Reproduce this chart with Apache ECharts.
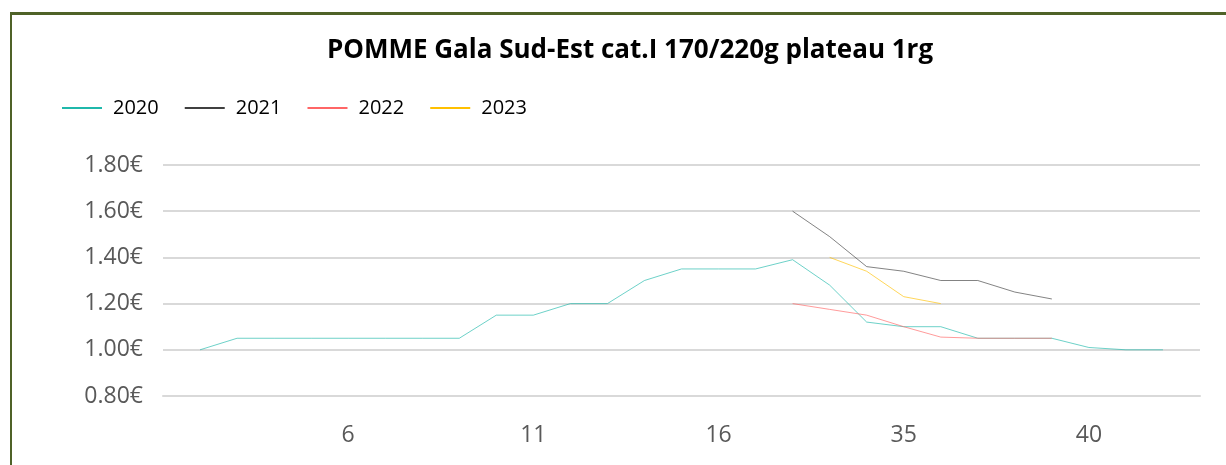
<!DOCTYPE html>
<html>
<head>
<meta charset="utf-8">
<script src="https://cdn.jsdelivr.net/npm/echarts@6/dist/echarts.min.js"></script>
<style>
  html, body { margin: 0; padding: 0; background: #fff; }
  #frame { position: absolute; left: 10px; top: 12px; right: 0; bottom: 0;
           border-top: 3px solid #4f6228; border-left: 2px solid #4f6228; }
  #chart { position: absolute; left: 0; top: 0; width: 1226px; height: 465px; }
</style>
</head>
<body>
<div id="frame"></div>
<div id="chart"></div>
<script>
// weeks (season gap between 16 and 31)
const weeks = ['1', '2', '3', '4', '5', '6', '7', '8', '9', '10', '11', '12', '13', '14', '15', '16',
  '31', '32', '33', '34', '35', '36', '37', '38', '39', '40', '41', '42', '43'];

const s2020 = [null, 1.00, 1.05, 1.05, 1.05, 1.05, 1.05, 1.05, 1.05, 1.15, 1.15, 1.20, 1.20, 1.30, 1.35, 1.35,
  1.35, 1.39, 1.28, 1.12, 1.10, 1.10, 1.05, 1.05, 1.05, 1.01, 1.00, 1.00, null];
const s2021 = [null, null, null, null, null, null, null, null, null, null, null, null, null, null, null, null,
  null, 1.60, 1.49, 1.36, 1.34, 1.30, 1.30, 1.25, 1.22, null, null, null, null];
const s2022 = [null, null, null, null, null, null, null, null, null, null, null, null, null, null, null, null,
  null, 1.20, 1.175, 1.15, 1.10, 1.055, 1.05, 1.05, 1.05, null, null, null, null];
const s2023 = [null, null, null, null, null, null, null, null, null, null, null, null, null, null, null, null,
  null, null, 1.40, 1.34, 1.23, 1.20, null, null, null, null, null, null, null];

const colors = ['#1fb8ab', '#404040', '#ff6666', '#ffc000'];
const font = '"Open Sans", "Noto Sans", sans-serif';

function line(name, data, color) {
  return {
    name: name,
    type: 'line',
    data: data,
    symbol: 'none',
    connectNulls: false,
    color: color,
    lineStyle: { width: 1, opacity: 0.65 }
  };
}

const chart = echarts.init(document.getElementById('chart'));
chart.setOption({
  animation: false,
  title: {
    text: 'POMME Gala Sud-Est cat.I 170/220g plateau 1rg',
    left: 625,
    textAlign: 'center',
    top: 33,
    textStyle: { fontFamily: font, fontWeight: 'bold', fontSize: 26, color: '#000' }
  },
  legend: {
    left: 57,
    top: 93,
    itemWidth: 40,
    itemHeight: 2,
    itemGap: 26,
    icon: 'rect',
    data: ['2020', '2021', '2022', '2023'],
    textStyle: { fontFamily: font, fontSize: 20, color: '#000', padding: [0, 0, 0, 6] }
  },
  grid: { left: 163, right: 26, top: 165, bottom: 69 },
  xAxis: {
    type: 'category',
    data: weeks,
    boundaryGap: false,
    axisLine: { lineStyle: { color: '#d9d9d9', width: 2 } },
    axisTick: { show: false },
    axisLabel: {
      interval: (i) => i > 0 && i % 5 === 0,
      margin: 28,
      fontFamily: font, fontSize: 23, color: '#595959'
    }
  },
  yAxis: {
    type: 'value',
    min: 0.8,
    max: 1.8,
    interval: 0.2,
    axisLine: { show: false },
    axisTick: { show: false },
    splitLine: { lineStyle: { color: '#d9d9d9', width: 2 } },
    axisLabel: {
      margin: 20,
      formatter: (v) => v.toFixed(2) + '€',
      fontFamily: font, fontSize: 23, color: '#595959'
    }
  },
  series: [
    line('2020', s2020, colors[0]),
    line('2021', s2021, colors[1]),
    line('2022', s2022, colors[2]),
    line('2023', s2023, colors[3])
  ]
});
</script>
</body>
</html>
